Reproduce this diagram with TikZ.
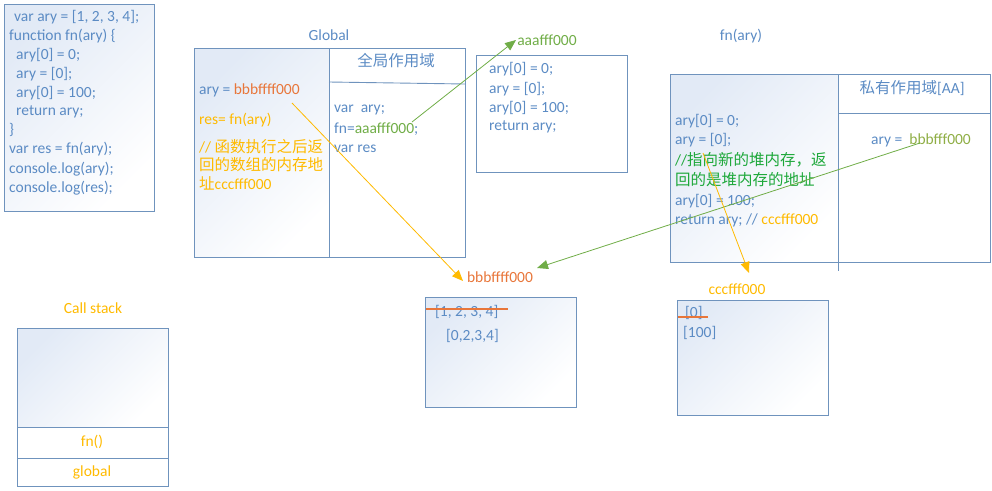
\documentclass[tikz,border=0pt]{standalone}
\usepackage{fontspec}
\setmainfont{Carlito}
\newfontfamily\cjkface{Noto Sans CJK SC}
\usetikzlibrary{arrows.meta}
\definecolor{txtblue}{HTML}{5B8BC4}
\definecolor{bordc}{HTML}{6F93BD}
\definecolor{addrorg}{HTML}{E8763A}
\definecolor{noteylw}{HTML}{FFBA00}
\definecolor{linkgrn}{HTML}{70AD47}
\definecolor{olivegrn}{HTML}{8FAE45}
\definecolor{notegrn}{HTML}{1DA83A}
\definecolor{shadec}{HTML}{E2EAF6}
\newcommand{\zh}[1]{{\cjkface\fontsize{15.5}{19}\selectfont #1}}
\tikzset{
  box/.style={draw=bordc, line width=0.9pt},
  grad/.style={top color=shadec, bottom color=white, shading angle=45},
  txt/.style={anchor=west, inner sep=0pt, text=txtblue, font=\fontsize{15.5}{19}\selectfont},
  ctr/.style={inner sep=0pt, font=\fontsize{15.5}{19}\selectfont},
  strikeline/.style={draw=addrorg, line width=1.5pt},
  ylwarrow/.style={draw=noteylw, line width=0.8pt, -{Triangle[length=11pt,width=9pt]}},
  grnarrow/.style={draw=linkgrn, line width=0.8pt, -{Triangle[length=11pt,width=9pt]}},
}
\begin{document}
\begin{tikzpicture}[x=1pt,y=-1pt]
\useasboundingbox (0,0) rectangle (992,490);

% ---- source code ----
\shade[grad] (4,4) rectangle (154,211);
\draw[box] (4,4) rectangle (154,211);
\node[txt] (c1) at (14,17) {var ary = [1, 2, 3, 4];};
\node[txt] (c2) at (9,36) {function fn(ary) \{};
\node[txt] (c3) at (16,55) {ary[0] = 0;};
\node[txt] (c4) at (16,74) {ary = [0];};
\node[txt] (c5) at (16,93) {ary[0] = 100;};
\node[txt] (c6) at (16,112) {return ary;};
\node[txt] (c7) at (9,130) {\}};
\node[txt] (c8) at (9,149) {var res = fn(ary);};
\node[txt] (c9) at (9,169) {console.log(ary);};
\node[txt] (c10) at (9,188) {console.log(res);};

% ---- global execution context ----
\node[ctr, text=txtblue] (globtitle) at (329,35) {Global};
\shade[grad] (194,48) rectangle (329,257);
\draw[box] (194,48) rectangle (465,257);
\draw[box] (329,48) -- (329,257);
\draw[box] (329,82) -- (465,84);
\node[ctr, text=txtblue] (globscope) at (396,61) {\zh{全局作用域}};
\node[txt] (gary) at (199,90) {ary = \textcolor{addrorg}{bbbffff000}};
\node[txt, text=noteylw] (gres) at (199,120) {res= fn(ary)};
\node[txt, text=noteylw] (gn1) at (199,147) {// \zh{函数执行之后返}};
\node[txt, text=noteylw] (gn2) at (199,165) {\zh{回的数组的内存地}};
\node[txt, text=noteylw] (gn3) at (199,183) {\zh{址}cccfff000};
\node[txt] (gv1) at (334,110) {var\ \ ary;};
\node[txt] (gv2) at (334,129) {fn=\textcolor{linkgrn}{aaafff000};};
\node[txt] (gv3) at (334,149) {var res};

% ---- function object in the heap ----
\node[ctr, text=linkgrn] (faddr) at (547,40) {aaafff000};
\draw[box] (476,55) rectangle (627,172);
\node[txt] (f1) at (489,69) {ary[0] = 0;};
\node[txt] (f2) at (489,89) {ary = [0];};
\node[txt] (f3) at (489,108) {ary[0] = 100;};
\node[txt] (f4) at (489,127) {return ary;};

% ---- fn(ary) execution context ----
\node[ctr, text=txtblue] (fntitle) at (741,36) {fn(ary)};
\shade[grad] (670,74) rectangle (838,262);
\draw[box] (670,74) rectangle (990,262);
\draw[box] (838,74) -- (838,271);
\draw[box] (838,113) -- (990,113);
\node[ctr, text=txtblue] (privscope) at (912,88) {\zh{私有作用域}[AA]};
\node[txt] (pary) at (871,140) {ary =\ \ \textcolor{olivegrn}{bbbfff000}};
\node[txt] (p1) at (675,121) {ary[0] = 0;};
\node[txt] (p2) at (675,140) {ary = [0];};
\node[txt, text=notegrn] (p3) at (675,160) {//\zh{指向新的堆内存，返}};
\node[txt, text=notegrn] (p4) at (675,180) {\zh{回的是堆内存的地址}};
\node[txt] (p5) at (675,201) {ary[0] = 100;};
\node[txt] (p6) at (675,220) {return ary; // \textcolor{noteylw}{cccfff000}};

% ---- array objects in the heap ----
\node[ctr, text=addrorg] (baddr) at (500,277) {bbbffff000};
\shade[grad] (425,297) rectangle (576,407);
\draw[box] (425,297) rectangle (576,407);
\node[txt] (arr1) at (435,312) {[1, 2, 3, 4]};
\node[txt] (arr2) at (446,336) {[0,2,3,4]};

\node[ctr, text=noteylw] (caddr) at (737,289) {cccfff000};
\shade[grad] (677,300) rectangle (828,415);
\draw[box] (677,300) rectangle (828,415);
\node[txt] (arr3) at (685,313) {[0]};
\node[txt] (arr4) at (683,333) {[100]};

% strike-through of the discarded values
\draw[strikeline] (426,309) -- (508,309);
\draw[strikeline] (678,317) -- (708,317);

% ---- call stack ----
\node[ctr, text=noteylw] (cstitle) at (93,308) {Call stack};
\shade[grad] (17,328) rectangle (168,427);
\draw[box] (17,328) rectangle (168,486);
\draw[box] (17,427) -- (168,427);
\draw[box] (17,458) -- (168,458);
\node[ctr, text=noteylw] (csfn) at (92,442) {fn()};
\node[ctr, text=noteylw] (csglob) at (92,472) {global};

% ---- references ----
\coordinate (fnref) at (412,122);
\coordinate (fnhead) at (516,40);
\coordinate (garyref) at (292,103);
\coordinate (garyhead) at (463,281);
\coordinate (paryref) at (920,143);
\coordinate (paryhead) at (537,268);
\coordinate (retref) at (703,153);
\coordinate (rethead) at (749,273);
\draw[grnarrow] (fnref) -- (fnhead);
\draw[ylwarrow] (garyref) -- (garyhead);
\draw[grnarrow] (paryref) -- (paryhead);
\draw[ylwarrow] (retref) -- (rethead);
\end{tikzpicture}
\end{document}
